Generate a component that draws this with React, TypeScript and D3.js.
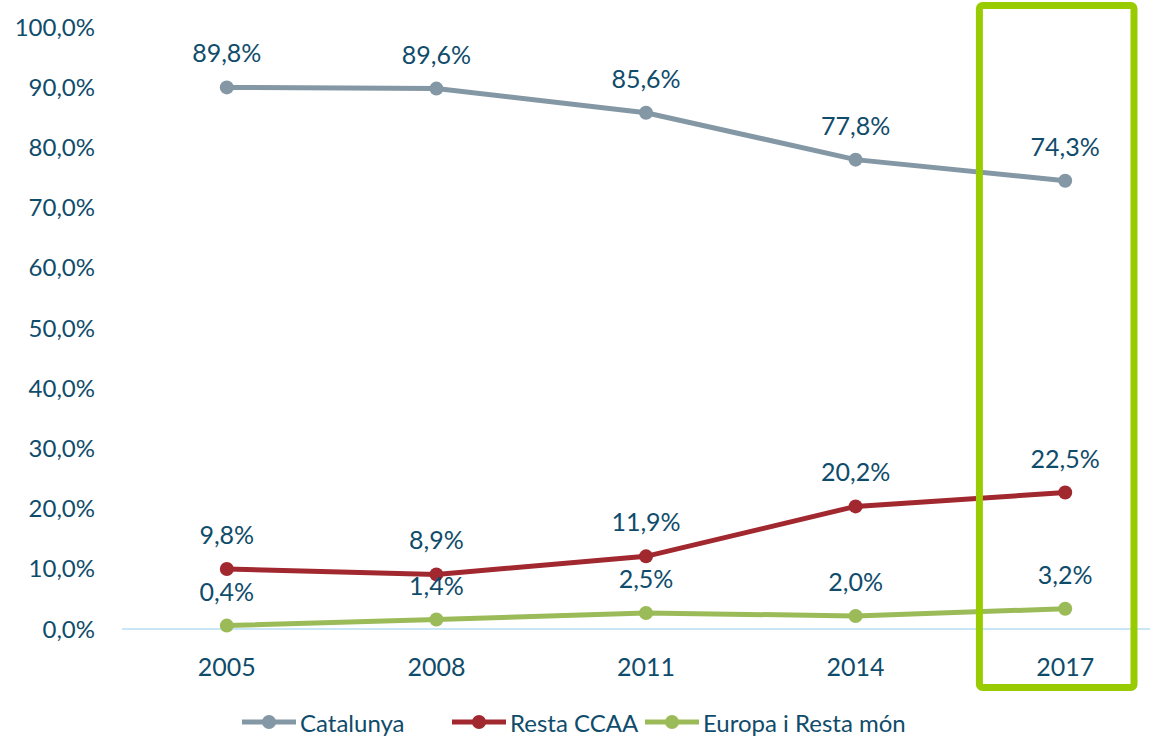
import React from "react";
import * as d3 from "d3";

const years = ["2005", "2008", "2011", "2014", "2017"];
const catalunya = [89.8, 89.6, 85.6, 77.8, 74.3];
const restaCCAA = [9.8, 8.9, 11.9, 20.2, 22.5];
const europa = [0.4, 1.4, 2.5, 2.0, 3.2];
const yTicks = [0, 10, 20, 30, 40, 50, 60, 70, 80, 90, 100];
const highlightYear = "2017";

const series = [
  { name: "Catalunya", values: catalunya, color: "#8497a4" },
  { name: "Resta CCAA", values: restaCCAA, color: "#a1282f" },
  { name: "Europa i Resta món", values: europa, color: "#9bbb59" },
];

const textColor = "#0f4c6b";
const font = "Lato, 'Open Sans', sans-serif";

function fmt(v: number) {
  return v.toFixed(1).replace(".", ",") + "%";
}

export default function App() {
  const width = 1158, height = 736;
  const x = d3.scaleBand().domain(years).range([122, 1170]);
  const y = d3.scaleLinear().domain([0, 100]).range([628, 26]);
  const cx = (d: string) => (x(d) as number) + x.bandwidth() / 2;
  const line = d3.line<number>()
    .x((_, i) => cx(years[i]))
    .y(d => y(d));

  // highlight box around the last year
  const hx = x(highlightYear) as number;
  const legendX = [242, 452, 645];

  return (
    <svg width={width} height={height} style={{ position: "absolute", left: 0, top: 0 }} fontFamily={font}>
      <rect width={width} height={height} fill="#fff" />
      {yTicks.map(t => (
        <text key={t} x={95} y={y(t)} textAnchor="end" dominantBaseline="central" fontSize={24} fill={textColor}>
          {fmt(t)}
        </text>
      ))}
      <line x1={122} x2={1150} y1={y(0) + 1} y2={y(0) + 1} stroke="#c9e6f6" strokeWidth={2} />
      {years.map(yr => (
        <text key={yr} x={cx(yr)} y={666} textAnchor="middle" dominantBaseline="central" fontSize={25} fill={textColor}>
          {yr}
        </text>
      ))}
      {series.map(s => (
        <g key={s.name}>
          <path d={line(s.values) || ""} fill="none" stroke={s.color} strokeWidth={5} />
          {s.values.map((v, i) => (
            <circle key={i} cx={cx(years[i])} cy={y(v)} r={7} fill={s.color} />
          ))}
          {s.values.map((v, i) => (
            <text key={"l" + i} x={cx(years[i])} y={y(v) - 35} textAnchor="middle" dominantBaseline="central" fontSize={25} fill={textColor}>
              {fmt(v)}
            </text>
          ))}
        </g>
      ))}
      <rect x={hx + 19} y={5.5} width={x.bandwidth() - 55} height={682} fill="none" stroke="#99cc00" strokeWidth={7} rx={3} />
      {series.map((s, i) => (
        <g key={"lg" + s.name} transform={`translate(${legendX[i]},722)`}>
          <line x1={0} x2={54} y1={0} y2={0} stroke={s.color} strokeWidth={5} />
          <circle cx={27} cy={0} r={7} fill={s.color} />
          <text x={58} y={0} dominantBaseline="central" fontSize={24} fill={textColor}>{s.name}</text>
        </g>
      ))}
    </svg>
  );
}
